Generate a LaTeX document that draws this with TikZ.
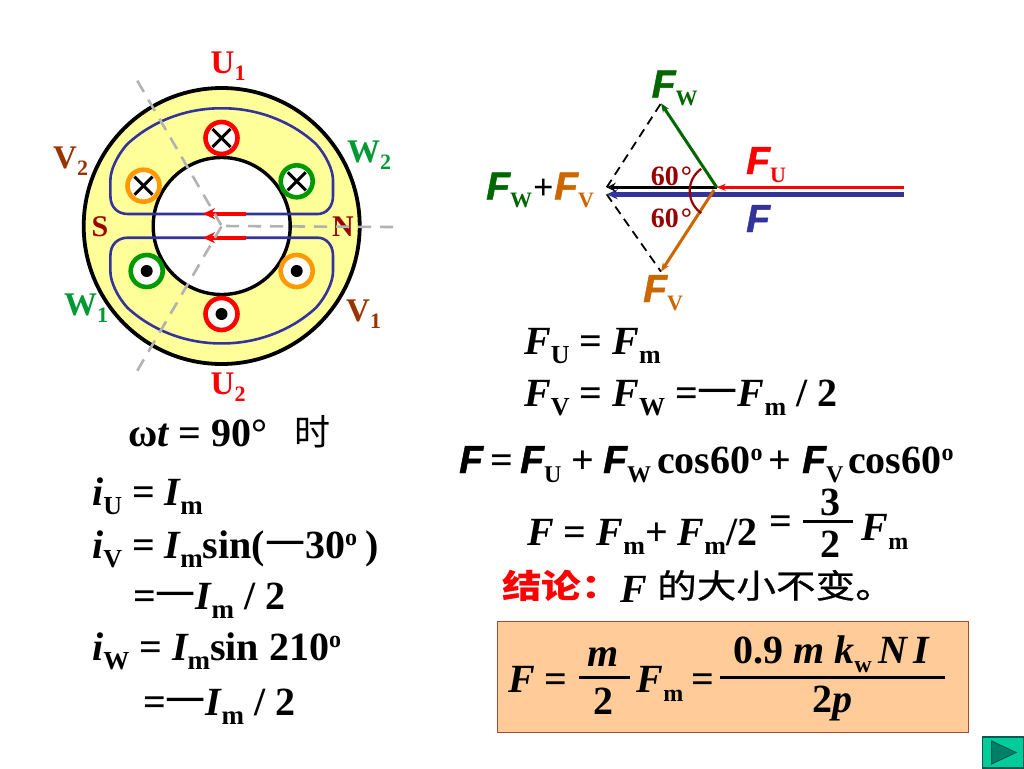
\documentclass[tikz,border=0pt]{standalone}
\usepackage{fontspec}
\setmainfont{Liberation Serif}
\setsansfont{Liberation Sans}
\newfontfamily\cjk{Noto Sans CJK SC}
\newfontfamily\cjkw{Noto Sans CJK SC}[FakeStretch=1.2]
\newfontfamily\cjkm{Noto Sans CJK SC}[FakeStretch=1.2,FakeBold=0.7]
\newfontfamily\heavy{Liberation Sans}[UprightFont=* Bold Italic,FakeBold=1.2]
\usetikzlibrary{arrows.meta}
\definecolor{cU}{HTML}{FF0000}
\definecolor{cV}{HTML}{993300}
\definecolor{cW}{HTML}{009933}
\definecolor{cVec}{HTML}{CC6600}
\definecolor{cG}{HTML}{006600}
\definecolor{cRing}{HTML}{FF9900}
\definecolor{cRingG}{HTML}{009900}
\definecolor{cB}{HTML}{333399}
\definecolor{cDR}{HTML}{990000}
\definecolor{cGray}{HTML}{B2B2B2}
\definecolor{cYel}{HTML}{FFFF99}
\definecolor{cBox}{HTML}{FFCC99}
\definecolor{cBoxL}{HTML}{A05032}
\definecolor{cBtn}{HTML}{00CC99}
\definecolor{cBtnL}{HTML}{005A50}
\definecolor{cTri}{HTML}{008066}
\newcommand\Fz[1]{\fontsize{#1}{#1}\selectfont}
\newcommand\Sub[3][9pt]{\raisebox{-#1}{\rmfamily\upshape\bfseries\Fz{#2}#3}}
\newcommand\Sup[2]{\raisebox{13pt}{\rmfamily\upshape\bfseries\Fz{#1}#2}}
\newcommand\FF{{\heavy F}}
\newcommand\Mn{{\cjk\mdseries\upshape 一}}
\tikzset{
  txt/.style={inner sep=0pt,anchor=base west,font=\rmfamily\bfseries\Fz{#1}},
  txt/.default=40,
  ctr/.style={inner sep=0pt,anchor=base,font=\rmfamily\bfseries\Fz{#1}},
  ctr/.default=40,
  ringA/.style={circle,draw=#1,line width=4.6pt,fill=white,minimum size=32pt,inner sep=0pt},
  graydash/.style={draw=cGray,line width=2.6pt,dash pattern=on 13pt off 9pt},
  coil/.style={draw=cB,line width=2.6pt,line join=round},
  tipS/.style={-{Stealth[length=9pt,width=7pt]}},
  bar/.style={draw=black,line width=2.6pt},
}
\begin{document}
\begin{tikzpicture}[x=1pt,y=-1pt]
\useasboundingbox (0,0) rectangle (1024,768);
\fill[white] (0,0) rectangle (1024,768);
% machine
\coordinate (c) at (221.7,226);
\draw[fill=cYel,draw=black,line width=3.8pt] (c) circle[radius=138];
\draw[fill=white,draw=black,line width=3.4pt] (c) circle[radius=68.5];
\node[ringA=cU] (u1) at (221.5,138) {};
\node[ringA=cU] (u2) at (221.5,314) {};
\node[ringA=cRing] (v2) at (143.5,185.7) {};
\node[ringA=cRingG] (w2) at (296.7,181.3) {};
\node[ringA=cRingG] (w1) at (146.7,271) {};
\node[ringA=cRing] (v1) at (296.7,271) {};
\foreach \n in {u1,v2,w2}{
  \draw[black,line width=3pt] (\n)++(-9,-9) -- ++(18,18);
  \draw[black,line width=3pt] (\n)++(9,-9) -- ++(-18,18);
}
\foreach \n in {u2,w1,v1}{ \fill[black] (\n) circle[radius=6]; }
% coils
\draw[coil] (128,214) -- (317.7,214) .. controls (326,214) and (333,207) .. (333,196)
  -- (333,180) .. controls (333,170) and (326,155) .. (316,144)
  .. controls (290,120) and (255,108) .. (221.7,108.3)
  .. controls (188.4,108) and (153.4,120) .. (127.4,144)
  .. controls (117.4,155) and (110.4,170) .. (110.4,180)
  -- (110.4,196) .. controls (110.4,207) and (117.4,214) .. (128,214);
\draw[coil] (128,237.7) -- (317.7,237.7) .. controls (326,237.7) and (333,244.7) .. (333,255.7)
  -- (333,271.7) .. controls (333,281.7) and (326,296.7) .. (316,307.7)
  .. controls (290,331.7) and (255,343.7) .. (221.7,343.4)
  .. controls (188.4,343.7) and (153.4,331.7) .. (127.4,307.7)
  .. controls (117.4,296.7) and (110.4,281.7) .. (110.4,271.7)
  -- (110.4,255.7) .. controls (110.4,244.7) and (117.4,237.7) .. (128,237.7);
\coordinate (ra1) at (245.7,213.7); \coordinate (ra2) at (203,213.7);
\coordinate (rb1) at (245.7,237.7); \coordinate (rb2) at (203,237.7);
\draw[cU,line width=4pt,-{Stealth[length=12pt,width=11pt]}] (ra1) -- (ra2);
\draw[cU,line width=4pt,-{Stealth[length=12pt,width=11pt]}] (rb1) -- (rb2);
% labels
\node[txt=33,text=cU] (lu1) at (210.5,74) {U\Sub[7pt]{22}{1}};
\node[txt=33,text=cU] (lu2) at (210.5,394) {U\Sub[7pt]{22}{2}};
\node[txt=33,text=cV] (lv2) at (53,168) {V\Sub[7pt]{22}{2}};
\node[txt=33,text=cW] (lw2) at (347,162) {W\Sub[7pt]{22}{2}};
\node[txt=33,text=cW] (lw1) at (64,315) {W\Sub[7pt]{22}{1}};
\node[txt=33,text=cV] (lv1) at (346,321) {V\Sub[7pt]{22}{1}};
\node[txt=30,text=cDR] (ls) at (91.5,236) {S};
\node[txt=30,text=cDR] (ln) at (332,236) {N};
\coordinate (g1) at (393,227); \coordinate (g2) at (137.3,80.7); \coordinate (g3) at (137.3,370.7);
\draw[graydash] (g1) -- (c);
\draw[graydash] (g2) -- (c);
\draw[graydash] (g3) -- (c);
% phasors
\coordinate (o) at (716.7,187.3);
\coordinate (re) at (904,187.3);
\coordinate (be) at (904,194.3);
\coordinate (bt) at (606.7,194.3);
\coordinate (kt) at (606.7,187.3);
\coordinate (gt) at (661,103.3);
\coordinate (ot) at (661,271.7);
\coordinate (os) at (714,190);
\draw[black,line width=1.8pt,dash pattern=on 9pt off 6pt] (kt) -- (gt);
\draw[black,line width=1.8pt,dash pattern=on 9pt off 6pt] (bt) -- (ot);
\draw[cB,line width=4.4pt,-{Stealth[length=11pt,width=10pt]}] (be) -- (bt);
\draw[black,line width=2.8pt,-{Stealth[length=9pt,width=9pt,open]}] (o) -- (kt);
\draw[cU,line width=3pt,tipS] (re) -- (o);
\draw[cG,line width=3pt,tipS] (o) -- (gt);
\draw[cVec,line width=3pt,tipS] (os) -- (ot);
\draw[cDR,line width=2.2pt,domain=125:235,samples=30] plot ({716.7+27*cos(\x)},{191-27*sin(\x)});
\node[txt=28,text=cDR] (a60a) at (650.7,185) {60\hspace{2pt}°};
\node[txt=28,text=cDR] (a60b) at (650.7,227) {60\hspace{2pt}°};
\node[txt=39,text=cG] (lfw) at (651.5,97.5) {\FF\Sub[8pt]{22}{W}};
\node[txt=39,text=cU] (lfu) at (746,174) {\FF\Sub[8pt]{22}{U}};
\node[txt=39,text=cB] (lf) at (746,232) {\FF};
\node[txt=39,text=cVec] (lfv) at (643,302) {\FF\Sub[8pt]{22}{V}};
\node[txt=39,text=cG] (lsum1) at (486,199.5) {\FF\Sub[8pt]{22}{W}};
\node[txt=36] (lsumP) at (533,199.5) {+};
\node[txt=39,text=cVec] (lsum2) at (554,199.5) {\FF\Sub[8pt]{22}{V}};
% right equations
\node[txt] (e1) at (524,354) {\itshape F\Sub{26}{U}\upshape\ = \itshape F\Sub{26}{m}};
\node[txt] (e2) at (524,406) {\itshape F\Sub{26}{V}\upshape\ = \itshape F\Sub{26}{W}\upshape\ =\Mn\itshape F\Sub{26}{m}\upshape\ / 2};
\node[txt=39] (e3a) at (459,473) {\FF};
\node[txt] (e3b) at (490,473) {=};
\node[txt=39] (e3c) at (520,473) {\FF\Sub{24}{U}};
\node[txt] (e3d) at (571,473) {+};
\node[txt=39] (e3e) at (603,473) {\FF\Sub{24}{W}};
\node[txt] (e3f) at (657,473) {cos60\Sup{24}{o}};
\node[txt] (e3g) at (768,473) {+};
\node[txt=39] (e3h) at (802,473) {\FF\Sub{24}{V}};
\node[txt] (e3i) at (848,473) {cos60\Sup{24}{o}};
\node[txt] (e4) at (527,545) {\itshape F\upshape\ = \itshape F\Sub{26}{m}\upshape+\ \itshape F\Sub{26}{m}\upshape/2};
\node[txt] (e4eq) at (769,534) {=};
\node[ctr] (n3) at (830,515) {3};
\node[ctr] (d2) at (830,557) {2};
\coordinate (fl) at (803,521.7); \coordinate (fr) at (853,521.7);
\draw[bar] (fl) -- (fr);
\node[txt] (e4f) at (861.5,540) {\itshape F\Sub{24}{m}};
\node[inner sep=0pt,anchor=base west,text=cU,font=\cjkw\bfseries\Fz{33}] (jl) at (502,598) {结论：};
\node[txt] (jf) at (620,602) {\itshape F};
\node[inner sep=0pt,anchor=base west,font=\cjkm\Fz{33}] (jr) at (657,598) {的大小不变。};
% left equations
\node[txt] (w) at (128,446) {ω\itshape t\upshape\ = 90°};
\node[inner sep=0pt,anchor=base west,font=\cjk\Fz{36}] (shi) at (294,445) {时};
\node[txt] (i1) at (92,505) {\itshape i\Sub{26}{U}\upshape\ = \itshape I\Sub{27}{m}};
\node[txt] (i2) at (92,558) {\itshape i\Sub{26}{V}\upshape\ = \itshape I\Sub{27}{m}\upshape sin(\Mn 30\Sup{24}{o}\hspace{8pt})};
\node[txt] (i3) at (133,609) {=\Mn\itshape I\Sub{27}{m}\upshape\ / 2};
\node[txt] (i4) at (92,660) {\itshape i\Sub{26}{W}\upshape\ = \itshape I\Sub{27}{m}\upshape sin 210\Sup{24}{o}};
\node[txt] (i5) at (143,715) {=\Mn\itshape I\Sub{27}{m}\upshape\ / 2};
% result box
\draw[fill=cBox,draw=cBoxL,line width=1.2pt] (497.5,621.7) rectangle (968.5,732.7);
\node[txt] (b1) at (508,692) {\itshape F\upshape\ =};
\node[ctr] (bm) at (603,666) {\itshape m};
\node[ctr] (b2) at (603,714) {2};
\coordinate (ml) at (578.6,677.3); \coordinate (mr) at (629.7,677.3);
\draw[bar] (ml) -- (mr);
\node[txt] (b3) at (636.5,692) {\itshape F\Sub{24}{m}};
\node[txt] (b4) at (691,692) {=};
\node[txt] (b5) at (733,663) {0.9 \itshape m k\Sub{24}{w}\,N\,I};
\node[txt] (b6) at (812,712) {2\itshape p};
\coordinate (ll) at (720,677.3); \coordinate (lr) at (945,677.3);
\draw[draw=black,line width=3pt] (ll) -- (lr);
% nav button
\draw[fill=cBtn,draw=cBtnL,line width=1.2pt] (982.5,737) rectangle (1024,768);
\draw[fill=cTri,draw=cBtnL,line width=1pt,line join=miter] (991.5,741) -- (991.5,764) -- (1016,752.5) -- cycle;
\end{tikzpicture}
\end{document}
